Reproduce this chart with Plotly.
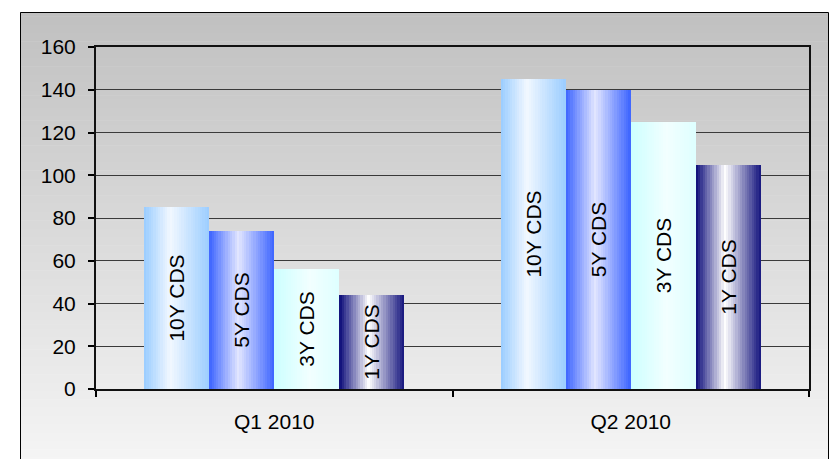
import plotly.graph_objects as go

# ---- data ----
categories = ["Q1 2010", "Q2 2010"]
series_names = ["10Y CDS", "5Y CDS", "3Y CDS", "1Y CDS"]
cds_10y = [85, 145]
cds_5y = [74, 140]
cds_3y = [56, 125]
cds_1y = [44, 105]
y_ticks = [0, 20, 40, 60, 80, 100, 120, 140, 160]

series_values = [cds_10y, cds_5y, cds_3y, cds_1y]

# ---- styles: horizontal gradient stops per series ----
gradients = [
    [(0.0, (153, 204, 255)), (0.40, (242, 248, 255)), (1.0, (155, 205, 255))],
    [(0.0, (60, 100, 255)), (0.45, (226, 230, 255)), (1.0, (60, 100, 255))],
    [(0.0, (204, 255, 255)), (0.55, (242, 255, 255)), (1.0, (222, 255, 255))],
    [(0.0, (10, 10, 120)), (0.45, (255, 255, 255)), (1.0, (20, 20, 125))],
]


def grad_color(stops, t):
    for (p0, c0), (p1, c1) in zip(stops[:-1], stops[1:]):
        if p0 <= t <= p1:
            f = (t - p0) / (p1 - p0) if p1 > p0 else 0
            c = [round(a + (b - a) * f) for a, b in zip(c0, c1)]
            return "rgb(%d,%d,%d)" % tuple(c)
    c = stops[-1][1]
    return "rgb(%d,%d,%d)" % c


N_STRIPES = 28
group_width = 0.73
bar_w = group_width / len(series_names)
start = -group_width / 2

fig = go.Figure()
for s, (name, vals) in enumerate(zip(series_names, series_values)):
    off0 = start + s * bar_w
    sw = bar_w / N_STRIPES
    for k in range(N_STRIPES):
        t = (k + 0.5) / N_STRIPES
        fig.add_trace(go.Bar(
            x=categories, y=vals,
            offset=off0 + k * sw, width=sw * 1.08 if k < N_STRIPES - 1 else sw,
            marker=dict(color=grad_color(gradients[s], t), line=dict(width=0)),
            hoverinfo="skip", showlegend=False,
        ))
    # text overlay bar
    fig.add_trace(go.Bar(
        x=categories, y=vals, offset=off0, width=bar_w,
        marker=dict(color="rgba(0,0,0,0)", line=dict(width=0)),
        text=[name] * len(categories), textposition="inside",
        insidetextanchor="middle", textangle=-90,
        insidetextfont=dict(family="Liberation Sans, Arial, sans-serif", size=21, color="black"),
        constraintext="none",
        hoverinfo="skip", showlegend=False, name=name,
    ))

# background gradient (paper-referenced stripes)
W, H = 833, 459
ml, mr, mt, mb = 96, 24, 47, 70
pw, ph = W - ml - mr, H - mt - mb


def px_to_paper_x(px):
    return (px - ml) / pw


def px_to_paper_y(py):
    return (H - mb - py) / ph


shapes = []
top_px, bot_px = 12, 470
n_bg = 110
c_top, c_bot = 192, 246
for i in range(n_bg):
    y0p = top_px + (bot_px - top_px) * i / n_bg
    y1p = top_px + (bot_px - top_px) * (i + 1) / n_bg + 0.6
    f = (i + 0.5) / n_bg
    g = round(c_top + (c_bot - c_top) * f)
    shapes.append(dict(
        type="rect", xref="paper", yref="paper", layer="below",
        x0=px_to_paper_x(20), x1=px_to_paper_x(828),
        y0=px_to_paper_y(y1p), y1=px_to_paper_y(y0p),
        line=dict(width=0), fillcolor="rgb(%d,%d,%d)" % (g, g, g),
    ))
# outer frame
shapes.append(dict(
    type="rect", xref="paper", yref="paper", layer="below",
    x0=px_to_paper_x(20.5), x1=px_to_paper_x(828.5),
    y0=px_to_paper_y(480), y1=px_to_paper_y(12.5),
    line=dict(width=1, color="black"), fillcolor="rgba(0,0,0,0)",
))

font = dict(family="Liberation Sans, Arial, sans-serif", size=21, color="black")

fig.update_layout(
    width=W, height=H,
    margin=dict(l=ml, r=mr, t=mt, b=mb, pad=0),
    paper_bgcolor="white", plot_bgcolor="rgba(0,0,0,0)",
    barmode="overlay", bargap=0,
    showlegend=False,
    shapes=shapes,
    font=font,
    xaxis=dict(
        type="category", tickson="boundaries", ticks="outside", ticklen=6,
        tickcolor="black", tickwidth=1.5, showgrid=False,
        showline=True, linecolor="#111", linewidth=2, mirror=True,
        tickfont=font, ticklabelstandoff=13, fixedrange=True,
    ),
    yaxis=dict(
        range=[0, 160], tickvals=y_ticks, ticks="outside", ticklen=6,
        tickcolor="black", tickwidth=1.5,
        showgrid=True, gridcolor="#3a3a3a", gridwidth=1,
        showline=True, linecolor="#111", linewidth=2, mirror=True,
        zeroline=False, tickfont=font, ticklabelstandoff=8, fixedrange=True,
    ),
)

fig.write_html("out.html", config={"displayModeBar": False},
               post_script="document.body.style.margin='0';")
